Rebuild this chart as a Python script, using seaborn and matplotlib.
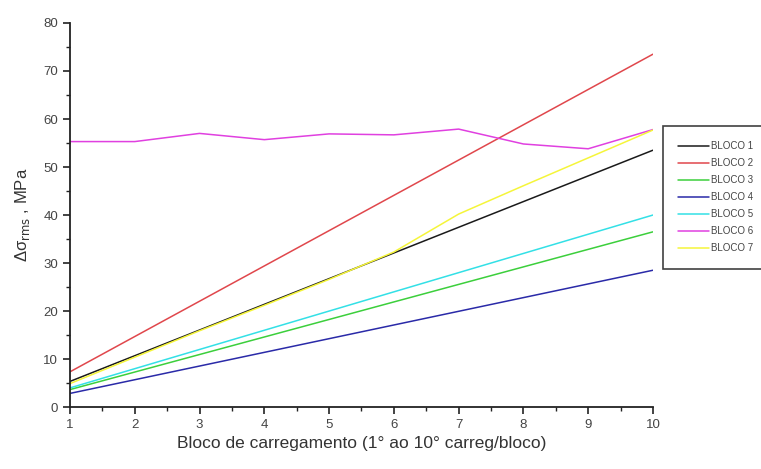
import numpy as np
import pandas as pd
import seaborn as sns
import matplotlib
matplotlib.use("Agg")
import matplotlib.pyplot as plt
from matplotlib.ticker import MultipleLocator

# Loading block index (1st to 10th load per block)
carregamento = [1, 2, 3, 4, 5, 6, 7, 8, 9, 10]

bloco_1 = [5.35, 10.7, 16.05, 21.4, 26.75, 32.1, 37.45, 42.8, 48.15, 53.5]
bloco_2 = [7.35, 14.7, 22.05, 29.4, 36.75, 44.1, 51.45, 58.8, 66.15, 73.5]
bloco_3 = [3.65, 7.3, 10.95, 14.6, 18.25, 21.9, 25.55, 29.2, 32.85, 36.5]
bloco_4 = [2.85, 5.7, 8.55, 11.4, 14.25, 17.1, 19.95, 22.8, 25.65, 28.5]
bloco_5 = [4.0, 8.0, 12.0, 16.0, 20.0, 24.0, 28.0, 32.0, 36.0, 40.0]
bloco_6 = [55.3, 55.3, 57.0, 55.7, 56.9, 56.7, 57.9, 54.8, 53.8, 57.8]
bloco_7 = [4.9, 10.4, 15.9, 21.2, 26.6, 32.3, 40.2, 46.1, 51.9, 57.7]

nomes = ["BLOCO 1", "BLOCO 2", "BLOCO 3", "BLOCO 4", "BLOCO 5", "BLOCO 6", "BLOCO 7"]
series = [bloco_1, bloco_2, bloco_3, bloco_4, bloco_5, bloco_6, bloco_7]
cores = ["#1a1a1a", "#e0474c", "#3ccf3c", "#2a2aa8", "#33e0e6", "#e040e0", "#f5f53a"]

df = pd.DataFrame({
    "x": np.tile(carregamento, len(nomes)),
    "y": np.concatenate(series),
    "bloco": np.repeat(nomes, len(carregamento)),
})

sns.set_theme(style="ticks")
plt.rcParams["font.family"] = ["Liberation Sans", "DejaVu Sans"]

fig = plt.figure(figsize=(7.61, 4.69), dpi=100)
ax = fig.add_axes([0.092, 0.132, 0.766, 0.819])

sns.lineplot(data=df, x="x", y="y", hue="bloco", palette=dict(zip(nomes, cores)),
             linewidth=1.1, ax=ax, legend=True)

ax.set_xlim(1, 10)
ax.set_ylim(0, 80)
ax.xaxis.set_major_locator(MultipleLocator(1))
ax.xaxis.set_minor_locator(MultipleLocator(0.5))
ax.yaxis.set_major_locator(MultipleLocator(10))
ax.yaxis.set_minor_locator(MultipleLocator(5))
ax.tick_params(axis="both", which="major", direction="out", length=5, width=1.2,
               labelsize=9.5, labelcolor="#444444", color="#222222")
ax.tick_params(axis="both", which="minor", direction="out", length=3, width=1.0,
               color="#222222")
for s in ("top", "right"):
    ax.spines[s].set_visible(False)
for s in ("left", "bottom"):
    ax.spines[s].set_linewidth(1.3)
    ax.spines[s].set_color("#222222")

ax.set_xlabel("Bloco de carregamento (1° ao 10° carreg/bloco)", fontsize=12.5,
              color="#333333", labelpad=4)
ax.set_ylabel(r"Δσ$_{\mathrm{rms}}$ , MPa", fontsize=12, color="#333333", labelpad=8)

handles, labels = ax.get_legend_handles_labels()
ax.legend_.remove()
leg = fig.legend(handles, labels, loc="upper left", bbox_to_anchor=(0.871, 0.732),
                 frameon=True, fancybox=False, fontsize=7, handlelength=3.2,
                 handletextpad=0.15, labelspacing=0.72, borderpad=1.6,
                 borderaxespad=0)
leg.get_frame().set_edgecolor("#111111")
leg.get_frame().set_linewidth(1.2)
for t in leg.get_texts():
    t.set_color("#444444")

fig.savefig("out.png", dpi=100)
